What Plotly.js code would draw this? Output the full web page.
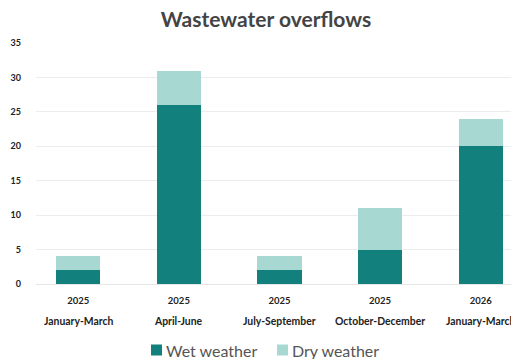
<!DOCTYPE html>
<html>
<head>
<meta charset="utf-8">
<script src="https://cdn.plot.ly/plotly-3.0.1.min.js"></script>
<style>
  html, body { margin: 0; padding: 0; background: #fff; overflow: hidden; }
  #wrap { width: 511px; height: 359px; overflow: hidden; }
  #chart { width: 532px; height: 359px; }
</style>
</head>
<body>
<div id="wrap"><div id="chart"></div></div>
<script>
// Quarterly overflow counts, split by weather condition
const years = ['2025', '2025', '2025', '2025', '2026'];
const quarters = ['January-March', 'April-June', 'July-September', 'October-December', 'January-March'];
const wetWeather = [2, 26, 2, 5, 20];
const dryWeather = [2, 5, 2, 6, 4];

const seriesNames = ['Wet weather', 'Dry weather'];
const seriesColors = ['#12807c', '#a7d9d2'];

const positions = quarters.map((_, i) => i);
const FONT = 'Lato, "Open Sans", sans-serif';

// Plot area in pixels: left 36, right 531, top 43, bottom 284
const PX = { l: 36, r: 531, t: 43, b: 284 };
const toPaperX = px => (px - PX.l) / (PX.r - PX.l);
const toPaperY = py => (PX.b - py) / (PX.b - PX.t);

const traces = [wetWeather, dryWeather].map((vals, k) => ({
  type: 'bar', name: seriesNames[k], x: positions, y: vals,
  marker: { color: seriesColors[k], line: { width: 0 } },
  hoverinfo: 'skip', showlegend: false
}));

// Second row of category labels (quarter names) under the year ticks
const annotations = quarters.map((q, i) => ({
  x: positions[i], xref: 'x', y: toPaperY(321), yref: 'paper',
  xanchor: 'center', yanchor: 'middle', showarrow: false,
  text: q, font: { family: FONT, size: 10.4, weight: 'bold', color: '#222' }
}));

// Legend drawn as swatches plus labels
const legendSwatchX = [151, 277];
const legendTextX = [164, 290];
const legendY = 350;
const shapes = [];
seriesNames.forEach((name, k) => {
  shapes.push({
    type: 'rect', xref: 'paper', yref: 'paper',
    x0: toPaperX(legendSwatchX[k]), x1: toPaperX(legendSwatchX[k] + 11),
    y0: toPaperY(legendY - 5.5), y1: toPaperY(legendY + 5.5),
    fillcolor: seriesColors[k], line: { width: 0 }
  });
  annotations.push({
    x: toPaperX(legendTextX[k]), xref: 'paper', y: toPaperY(legendY), yref: 'paper',
    xanchor: 'left', yanchor: 'middle', showarrow: false,
    text: name, font: { family: FONT, size: 16, color: '#555' }
  });
});

const layout = {
  width: 532, height: 359,
  margin: { l: PX.l, r: 532 - PX.r, t: PX.t, b: 359 - PX.b, autoexpand: false },
  paper_bgcolor: '#fff', plot_bgcolor: '#fff',
  barmode: 'stack', bargap: 0.56,
  showlegend: false,
  title: {
    text: 'Wastewater overflows',
    font: { family: FONT, size: 21, weight: 'bold', color: '#444' },
    x: 0.5, xanchor: 'center', y: 0.945, yanchor: 'middle'
  },
  xaxis: {
    range: [-0.42, 4.5], automargin: false,
    tickmode: 'array', tickvals: positions, ticktext: years,
    tickfont: { family: FONT, size: 9.5, weight: 'bold', color: '#222' },
    ticks: '', showgrid: false, zeroline: false, showline: false,
    ticklabelstandoff: 9, fixedrange: true
  },
  yaxis: {
    range: [0, 35], dtick: 5, automargin: false,
    tickfont: { family: FONT, size: 9, weight: 'bold', color: '#222' },
    ticks: '', showgrid: true, gridcolor: '#ececec', gridwidth: 1,
    zeroline: true, zerolinecolor: '#e6e6e6', zerolinewidth: 1,
    showline: false, ticklabelstandoff: 14, fixedrange: true
  },
  shapes: shapes,
  annotations: annotations
};

Plotly.newPlot('chart', traces, layout, { displayModeBar: false, staticPlot: true });
</script>
</body>
</html>
